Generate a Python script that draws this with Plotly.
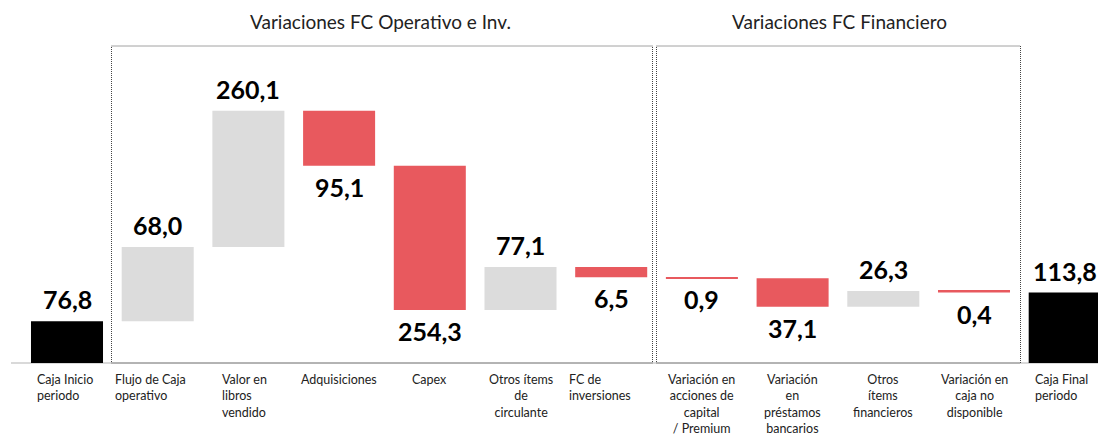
import plotly.graph_objects as go

# ---- data ----
categories = [
    "Caja Inicio<br>periodo",
    "Flujo de Caja<br>operativo",
    "Valor en<br>libros<br>vendido",
    "Adquisiciones",
    "Capex",
    "Otros ítems<br>de<br>circulante",
    "FC de<br>inversiones",
    "Variación en<br>acciones de<br>capital<br>/ Premium",
    "Variación<br>en<br>préstamos<br>bancarios",
    "Otros<br>ítems<br>financieros",
    "Variación en<br>caja no<br>disponible",
    "Caja Final<br>periodo",
]
# bar extents as drawn in the picture (chart units)
measures = ["absolute", "relative", "relative", "relative", "relative", "relative",
            "relative", "relative", "relative", "relative", "relative", "total"]
bar_values = [79, 140, 257, -104, -272, 81, -19, -2, -54, 30, -3, 0]
# printed data labels
label_values = [76.8, 68.0, 260.1, 95.1, 254.3, 77.1, 6.5, 0.9, 37.1, 26.3, 0.4, 113.8]
group_titles = ["Variaciones FC Operativo e Inv.", "Variaciones FC Financiero"]

# ---- style / placement ----
# None -> centred label; number -> left-aligned label starting at this offset (category units)
label_left_offset = [-0.35, -0.49, -0.31, None, None, None,
                     -0.485, None, None, None, None, -0.35]
FONT = "Lato"
GRAY = "#DCDCDC"
RED = "#E8595E"
BLACK = "#000000"
W, H = 1098, 436
BASE_PX = 363
SCALE = 0.53  # px per unit

n = len(categories)
xs = list(range(n))

fig = go.Figure()
fig.add_trace(go.Waterfall(
    x=xs, y=bar_values, measure=measures,
    increasing=dict(marker=dict(color=GRAY)),
    decreasing=dict(marker=dict(color=RED)),
    totals=dict(marker=dict(color=BLACK)),
    connector=dict(visible=False),
    hoverinfo="skip", showlegend=False,
))

# running levels
levels = []
run = 0
for m, v in zip(measures, bar_values):
    if m == "absolute":
        run = v
    elif m == "relative":
        run += v
    levels.append(run)

annotations = []
for i, (m, v, lab) in enumerate(zip(measures, bar_values, label_values)):
    txt = f"{lab:.1f}".replace(".", ",")
    down = (m == "relative" and v < 0)
    annotations.append(dict(
        x=i, y=levels[i], xref="x", yref="y", text=f"<b>{txt}</b>",
        showarrow=False, yanchor="top" if down else "bottom",
        yshift=-4 if down else 5,
        font=dict(family=FONT, size=25, color="#000000"),
    ))

for i, (c, off) in enumerate(zip(categories, label_left_offset)):
    if off is not None:
        annotations.append(dict(x=i + off, y=0, xref="x", yref="paper", text=c,
                                showarrow=False, xanchor="left", yanchor="top", align="left",
                                yshift=-7, font=dict(family=FONT, size=12.5, color="#222222")))
    else:
        annotations.append(dict(x=i, y=0, xref="x", yref="paper", text=c,
                                showarrow=False, xanchor="center", yanchor="top", align="center",
                                yshift=-7, font=dict(family=FONT, size=12.5, color="#222222")))

def py(px):
    return (BASE_PX - px) / BASE_PX

def pxx(px):
    return px / W

# group titles
annotations.append(dict(x=pxx(380), y=py(22), xref="paper", yref="paper", text=group_titles[0],
                        showarrow=False, xanchor="center", yanchor="middle",
                        font=dict(family=FONT, size=19, color="#222222")))
annotations.append(dict(x=pxx(839), y=py(22), xref="paper", yref="paper", text=group_titles[1],
                        showarrow=False, xanchor="center", yanchor="middle",
                        font=dict(family=FONT, size=19, color="#222222")))

shapes = [
    dict(type="line", xref="paper", yref="paper", x0=pxx(11), x1=1, y0=0, y1=0,
         line=dict(color="#D9D9D9", width=2), layer="below"),
    dict(type="rect", xref="paper", yref="paper", x0=pxx(111.5), x1=pxx(652.5), y0=py(363), y1=py(46),
         line=dict(color="#444444", width=1, dash="1px,1px"), layer="above"),
    dict(type="rect", xref="paper", yref="paper", x0=pxx(656.5), x1=pxx(1020.5), y0=py(363), y1=py(46),
         line=dict(color="#444444", width=1, dash="1px,1px"), layer="above"),
]

cat_px = 90.7
first_px = 67
fig.update_layout(
    width=W, height=H, autosize=False,
    margin=dict(l=0, r=0, t=0, b=H - BASE_PX),
    paper_bgcolor="white", plot_bgcolor="white",
    waterfallgap=0.206,
    xaxis=dict(range=[-first_px / cat_px, (W - first_px) / cat_px], visible=False, fixedrange=True),
    yaxis=dict(range=[0, BASE_PX / SCALE], visible=False, fixedrange=True),
    annotations=annotations, shapes=shapes,
    font=dict(family=FONT),
)

fig.write_html("out.html", config={"displayModeBar": False},
               post_script="document.body.style.margin='0';document.body.style.overflow='hidden';")
